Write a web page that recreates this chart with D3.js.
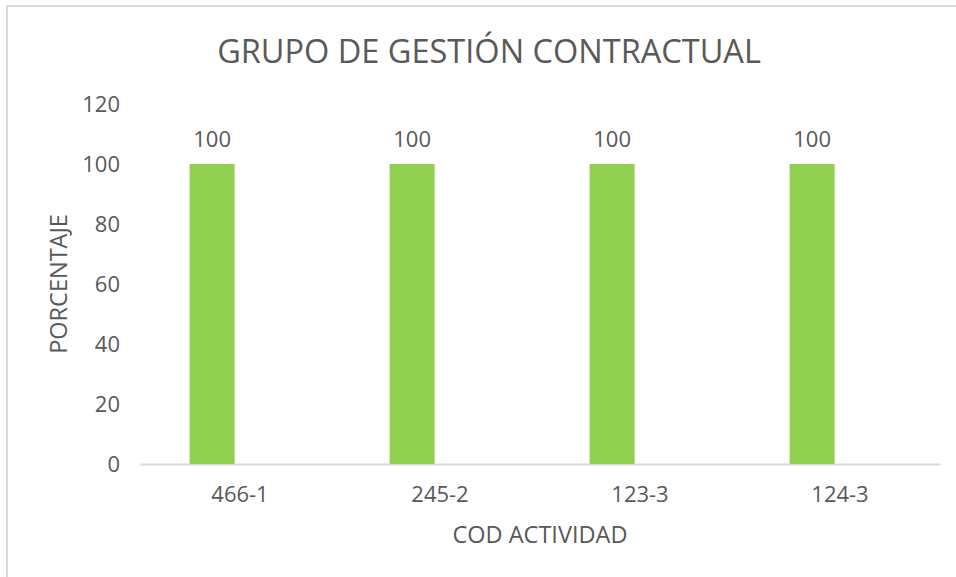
<!DOCTYPE html>
<html>
<head>
<meta charset="utf-8">
<script src="https://cdn.jsdelivr.net/npm/d3@7"></script>
<style>
    body { margin: 0; background: #fff; }
    text { font-family: "Open Sans", sans-serif; fill: #595959; }
</style>
</head>
<body>
<div id="chart"></div>
<script>
// chart data
const categories = ["466-1", "245-2", "123-3", "124-3"];
const porcentaje = [100, 100, 100, 100];
const yTicks = [0, 20, 40, 60, 80, 100, 120];
const chartTitle = "GRUPO DE GESTIÓN CONTRACTUAL";
const xTitle = "COD ACTIVIDAD";
const yTitle = "PORCENTAJE";

const config = {
    width: 956,
    height: 577,
    margin: { top: 104, left: 140, right: 16, bottom: 113 },
    barColor: "#92d050",
    axisColor: "#d9d9d9"
};

const innerW = config.width - config.margin.left - config.margin.right;
const innerH = config.height - config.margin.top - config.margin.bottom;

const svg = d3.select("#chart").append("svg")
    .attr("width", config.width)
    .attr("height", config.height);

// outer border of the chart area (only left and top are visible)
svg.append("path")
    .attr("d", `M7,${config.height} V6 H${config.width}`)
    .attr("fill", "none")
    .attr("stroke", config.axisColor)
    .attr("stroke-width", 2);

const chart = svg.append("g")
    .attr("transform", `translate(${config.margin.left},${config.margin.top})`);

// scales
const x = d3.scaleBand()
    .domain(categories)
    .range([0, innerW])
    .paddingInner(0)
    .paddingOuter(0);

// bar sits left of centre in each category, like an Excel clustered column
const xInner = d3.scaleBand()
    .domain(["PORCENTAJE"])
    .range([0, x.bandwidth()])
    .paddingOuter(1.72)
    .align(0.32);

const y = d3.scaleLinear()
    .domain([0, 120])
    .range([innerH, 0]);

// y axis (labels only)
const yAxis = d3.axisLeft(y)
    .tickValues(yTicks)
    .tickSize(0)
    .tickPadding(20);

chart.append("g")
    .call(yAxis)
    .call(g => g.select(".domain").remove())
    .selectAll("text")
        .style("font-size", "22px")
        .attr("fill", "#595959")
        .style("font-family", "'Open Sans', sans-serif");

// x axis
const xAxis = d3.axisBottom(x)
    .tickSize(0)
    .tickPadding(22);

chart.append("g")
    .attr("transform", `translate(0,${innerH})`)
    .call(xAxis)
    .call(g => g.select(".domain").attr("stroke", config.axisColor).attr("stroke-width", 2))
    .selectAll("text")
        .style("font-size", "22px")
        .attr("fill", "#595959")
        .style("font-family", "'Open Sans', sans-serif");

// bars
const rows = categories.map((c, i) => ({ cat: c, value: porcentaje[i] }));

chart.selectAll("rect.bar")
    .data(rows)
    .join("rect")
        .attr("class", "bar")
        .attr("x", d => x(d.cat) + xInner("PORCENTAJE"))
        .attr("width", xInner.bandwidth())
        .attr("y", d => y(d.value))
        .attr("height", d => y(0) - y(d.value))
        .attr("fill", config.barColor);

// data labels
chart.selectAll("text.label")
    .data(rows)
    .join("text")
        .attr("class", "label")
        .attr("x", d => x(d.cat) + xInner("PORCENTAJE") + xInner.bandwidth() / 2)
        .attr("y", d => y(d.value) - 17)
        .attr("text-anchor", "middle")
        .style("font-size", "22px")
        .text(d => d.value);

// titles
svg.append("text")
    .attr("x", 489)
    .attr("y", 63)
    .attr("text-anchor", "middle")
    .style("font-size", "32.5px")
    .text(chartTitle);

svg.append("text")
    .attr("x", config.margin.left + innerW / 2)
    .attr("y", 543)
    .attr("text-anchor", "middle")
    .style("font-size", "23.5px")
    .text(xTitle);

svg.append("text")
    .attr("transform", `translate(67,${config.margin.top + innerH / 2}) rotate(-90)`)
    .attr("text-anchor", "middle")
    .style("font-size", "23.5px")
    .text(yTitle);
</script>
</body>
</html>
